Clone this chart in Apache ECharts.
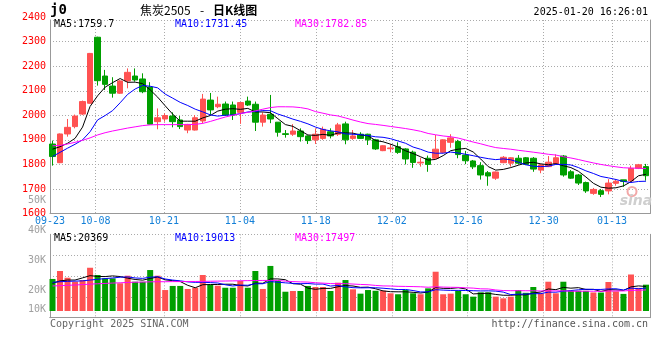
<!DOCTYPE html>
<html><head><meta charset="utf-8">
<script src="https://cdn.jsdelivr.net/npm/echarts@6/dist/echarts.min.js"></script>
<style>html,body{margin:0;padding:0;background:#fff}#c{width:660px;height:360px}</style>
</head><body><div id="c"></div>
<script>
const dates = ['09-23','09-24','09-25','09-26','09-27','09-30','10-08','10-09','10-10','10-11','10-14','10-15','10-16','10-17','10-18','10-21','10-22','10-23','10-24','10-25','10-28','10-29','10-30','10-31','11-01','11-04','11-05','11-06','11-07','11-08','11-11','11-12','11-13','11-14','11-15','11-18','11-19','11-20','11-21','11-22','11-25','11-26','11-27','11-28','11-29','12-02','12-03','12-04','12-05','12-06','12-09','12-10','12-11','12-12','12-13','12-16','12-17','12-18','12-19','12-20','12-23','12-24','12-25','12-26','12-27','12-30','12-31','01-02','01-03','01-06','01-07','01-08','01-09','01-10','01-13','01-14','01-15','01-16','01-17','01-20'];
const labelDates = ['09-23','10-08','10-21','11-04','11-18','12-02','12-16','12-30','01-13'];
const priceTicks = [1600,1700,1800,1900,2000,2100,2200,2300,2400];
const volTickLabels = ['50K','40K','30K','20K','10K'];

const open = [1883,1807,1924,1954,2005,2049,2318,2160,2119,2090,2140,2160,2148,2115,1974,1985,1997,1981,1940,1940,1977,2062,2035,2046,2042,2012,2058,2045,1972,2004,1972,1925,1923,1936,1916,1900,1906,1933,1923,1965,1906,1923,1923,1900,1856,1864,1872,1863,1850,1806,1825,1825,1849,1890,1893,1838,1814,1795,1766,1744,1807,1805,1825,1827,1825,1777,1791,1802,1834,1770,1757,1726,1682,1693,1692,1723,1737,1733,1784,1791];
const close = [1832,1924,1951,1997,2056,2252,2141,2126,2090,2140,2175,2144,2096,1964,1990,1999,1974,1954,1963,1990,2066,2022,2045,2001,2001,2052,2042,1972,2001,1985,1931,1922,1936,1913,1897,1923,1943,1916,1961,1900,1916,1906,1900,1863,1876,1867,1849,1822,1808,1809,1800,1862,1900,1908,1840,1815,1790,1757,1753,1769,1829,1827,1805,1800,1781,1798,1809,1827,1757,1744,1724,1692,1698,1678,1724,1731.5,1730.5,1784,1798.5,1754];
const low = [1795,1805,1913,1947,2001,2047,2121,2103,2072,2087,2110,2137,2090,1962,1943,1974,1951,1944,1927,1938,1967,2001,2029,1997,1981,1965,2038,1936,1954,1968,1913,1909,1916,1893,1883,1883,1900,1906,1916,1882,1900,1904,1879,1859,1854,1849,1843,1800,1786,1791,1770,1823,1845,1868,1825,1801,1781,1738,1713,1737,1805,1791,1800,1797,1770,1764,1789,1800,1750,1741,1716,1684,1676,1667,1678,1713,1709,1728,1781,1734];
const high = [1897,1926,1985,2003,2060,2254,2320,2185,2155,2143,2191,2191,2171,2135,2028,2008,2012,1997,1965,2001,2087,2091,2076,2056,2056,2054,2076,2056,2012,2083,1972,1940,1964,1947,1918,1947,1954,1947,1969,1974,1940,1931,1925,1904,1878,1883,1890,1866,1856,1827,1836,1920,1902,1923,1900,1855,1818,1809,1773,1771,1834,1829,1838,1830,1830,1802,1834,1841,1838,1777,1761,1730,1704,1700,1740,1740,1737,1795,1802,1802];

const ma5 = [1862,1872,1886,1906,1952,2036,2079.4,2114.4,2133,2149.8,2134.4,2135,2129,2103.8,2073.8,2038.6,2004.6,1976.2,1976,1976,1989.4,1999,2017.2,2024.8,2027,2024.2,2028.2,2013.6,2013.6,2010.4,1986.2,1962.2,1955,1937.4,1919.8,1918.2,1922.4,1918.4,1928,1928.6,1927.2,1919.8,1916.6,1897,1892.2,1882.4,1871,1855.4,1844.4,1831,1817.6,1820.2,1835.8,1855.8,1862,1865,1850.6,1822,1791,1776.8,1779.6,1787,1796.6,1806,1808.4,1802.2,1798.6,1803,1794.4,1787,1772.2,1748.8,1723,1707.2,1703.2,1704.7,1712.4,1729.6,1753.7,1759.7];
const ma10 = [1832,1849,1866,1882,1900,1933,1981,1999,2019,2050.9,2085.2,2107.2,2121.7,2118.4,2111.8,2086.5,2069.8,2052.6,2039.9,2024.9,2014,2001.8,1996.7,2000.4,2001.5,2006.8,2013.6,2015.4,2019.2,2018.7,2005.2,1995.2,1984.3,1975.5,1965.1,1952.2,1942.3,1936.7,1932.7,1924.2,1922.7,1921.1,1917.5,1912.5,1910.4,1904.8,1895.4,1886,1870.7,1861.6,1850,1845.6,1845.6,1850.1,1846.5,1841.3,1835.4,1828.9,1823.4,1819.4,1822.3,1818.8,1809.3,1798.5,1792.6,1790.9,1792.8,1799.8,1800.2,1797.7,1787.2,1773.7,1763,1750.8,1745.1,1738.5,1730.6,1726.3,1730.5,1731.45];
const ma30 = [1876,1877,1883,1890,1898,1908,1920,1929,1936,1942,1948,1953,1958,1961,1962,1962,1962,1962,1962,1963,1967,1975,1984,1993,2000,2007,2012,2018,2025,2031.5,2034.8,2034.7,2034.2,2031.4,2026.1,2015.2,2008.6,2001.6,1997.3,1989.3,1980.6,1972.7,1966.2,1962.8,1959,1954.6,1950.4,1946,1940.9,1934.8,1926,1920.6,1915.8,1912.7,1907.3,1899.4,1891,1883.9,1875.6,1868.4,1865,1861.8,1857.5,1853.7,1849.8,1845.7,1841.2,1838.2,1831.4,1826.2,1819.8,1812.7,1806,1799.8,1794.7,1790.2,1786.3,1785,1784.7,1782.85];

const volume = [26600,33200,27600,24300,25700,35900,29900,27100,27100,23000,29300,24300,24300,34000,29300,17400,20800,20800,18300,19300,29900,21600,21000,19300,19300,24900,19300,33200,18300,37400,24900,16000,16600,16600,20800,19900,19900,16600,23500,25700,18000,14400,17400,16800,16800,14700,13900,17400,14700,13900,18800,32600,13900,14400,16800,13900,11900,15500,15500,11900,10500,11900,17400,15100,19900,14700,24300,14700,24300,16780,16800,16700,15400,15300,24085,16300,14200,30300,19200,21845];
const vma5 = [23000,25000,25700,25700,27480,29340,28680,28580,29140,28600,27280,26160,25600,26980,28240,25860,25160,24460,21320,19320,21820,21980,22020,22220,22220,21220,20760,23200,23000,26620,26620,25960,22640,22300,18980,17980,18760,18760,20140,21120,20740,19640,19800,18460,16680,16020,15920,15920,15500,14920,15740,19480,18780,18720,19300,18320,14180,14500,14720,13740,13060,13060,13440,13360,14960,15800,18280,17740,19580,18956,19376,17856,17996,16196,17657,17557,17057,20037,20817,20369];
const vma10 = [23800,24300,24600,24800,25000,25700,26300,26900,27400,28040,28310,27420,27090,28060,28420,26570,25660,25030,24150,23780,23840,23570,23240,21770,20770,21520,21370,22610,22610,24420,23920,23360,22920,22650,22800,22300,22360,20700,21220,20050,19360,19200,19280,19300,18900,18380,17780,17860,16980,15800,15880,17700,17350,17110,17110,17030,16830,16640,16720,16520,15690,13620,13970,14040,14350,14430,15670,15590,16470,16958,17588,18068,17868,17888,18307,18467,17457,19017,18507,19013];
const vma30 = [20800,21000,21300,21600,21900,22300,22600,22900,23200,23400,23700,23900,24000,24200,24300,24300,24400,24400,24500,24500,24600,24700,24800,24900,25000,25100,25200,25300,25350,25410,25360,24780,24420,24160,24000,23460,23130,22780,22660,22750,22370,22040,21810,21240,20820,20730,20500,20390,20270,20090,19720,20090,19850,19690,19600,19240,18990,18400,18310,17460,16980,16840,16870,16820,16790,16610,16760,16700,16720,16430,16390,16460,16400,16350,16590,16640,16650,17080,17230,17497];

const UP = '#ff5252', DOWN = '#009f00';
const MONO = "'DejaVu Sans Mono', monospace";
const GRIDC = '#aaaaaa', FRAMEC = '#999999';
const showLbl = (i, v) => labelDates.indexOf(v) >= 0;
const PMIN = 1600, PMAX = 2388.2, VMAX = 63661;

const chart = echarts.init(document.getElementById('c'), null, {renderer: 'canvas'});
const dotted = {show: true, lineStyle: {color: GRIDC, type: [1, 2], width: 1}};
const frameLine = {show: true, lineStyle: {color: FRAMEC, width: 1}};

function txt(text, x, y, fill, font, align) {
  return {type: 'text', x: x, y: y, silent: true, z: 10,
    style: {text: text, fill: fill, font: font, textAlign: align || 'left', textVerticalAlign: 'middle'}};
}

const option = {
  animation: false,
  backgroundColor: '#ffffff',
  grid: [
    {left: 48.75, top: 20, width: 601, height: 193.5, outerBoundsMode: 'none'},
    {left: 50, top: 20, width: 600, height: 193.5, outerBoundsMode: 'none'},
    {left: 48.75, top: 234.3, width: 601, height: 76.7, outerBoundsMode: 'none'},
    {left: 50, top: 234.3, width: 600, height: 83.4, outerBoundsMode: 'none'}
  ],
  xAxis: [
    {type: 'category', gridIndex: 0, data: dates, show: false},
    {type: 'category', gridIndex: 1, data: dates, boundaryGap: false,
     axisLine: frameLine, axisTick: {show: false, interval: showLbl},
     axisLabel: {interval: showLbl, color: '#1480d8', fontFamily: MONO, fontSize: 10, margin: 3},
     splitLine: {show: true, interval: showLbl, lineStyle: {color: GRIDC, type: [1, 2], width: 1}}},
    {type: 'category', gridIndex: 2, data: dates, show: false},
    {type: 'category', gridIndex: 3, data: dates, boundaryGap: false,
     axisLine: frameLine, axisTick: {show: false, interval: showLbl}, axisLabel: {show: false},
     splitLine: {show: true, interval: showLbl, lineStyle: {color: GRIDC, type: [1, 2], width: 1}}},
    {type: 'category', gridIndex: 3, data: dates, position: 'top', boundaryGap: false,
     axisLine: frameLine, axisTick: {show: false}, axisLabel: {show: false}, splitLine: {show: false}}
  ],
  yAxis: [
    {type: 'value', gridIndex: 0, min: PMIN, max: PMAX, show: false, splitLine: {show: false}},
    {type: 'value', gridIndex: 1, min: PMIN, max: PMAX, interval: 100,
     axisLine: frameLine, axisTick: {show: false},
     axisLabel: {color: '#ff0000', fontFamily: MONO, fontSize: 10, margin: 4, showMaxLabel: false,
       formatter: v => (priceTicks.indexOf(v) >= 0 ? String(v) : '')},
     splitLine: dotted},
    {type: 'value', gridIndex: 1, min: PMIN, max: PMAX, position: 'right',
     axisLine: frameLine, axisTick: {show: false}, axisLabel: {show: false}, splitLine: {show: false}},
    {type: 'value', gridIndex: 2, min: 0, max: VMAX, show: false, splitLine: {show: false}},
    {type: 'value', gridIndex: 3, min: 0, max: 4, interval: 1,
     axisLine: frameLine, axisTick: {show: false}, axisLabel: {show: false}, splitLine: dotted},
    {type: 'value', gridIndex: 3, min: 0, max: 4, position: 'right',
     axisLine: frameLine, axisTick: {show: false}, axisLabel: {show: false}, splitLine: {show: false}}
  ],
  series: [
    {type: 'candlestick', xAxisIndex: 0, yAxisIndex: 0, barWidth: 6,
     data: dates.map((d, i) => [open[i], close[i], low[i], high[i]]),
     itemStyle: {color: UP, color0: DOWN, borderColor: UP, borderColor0: DOWN, borderWidth: 1}},
    {type: 'line', xAxisIndex: 0, yAxisIndex: 0, data: ma5, symbol: 'none', lineStyle: {color: '#000000', width: 1}},
    {type: 'line', xAxisIndex: 0, yAxisIndex: 0, data: ma10, symbol: 'none', lineStyle: {color: '#0000ff', width: 1}},
    {type: 'line', xAxisIndex: 0, yAxisIndex: 0, data: ma30, symbol: 'none', lineStyle: {color: '#ff00ff', width: 1}},
    {type: 'bar', xAxisIndex: 2, yAxisIndex: 3, barWidth: 6,
     data: volume.map((v, i) => ({value: v, itemStyle: {color: close[i] >= open[i] ? UP : DOWN}}))},
    {type: 'line', xAxisIndex: 2, yAxisIndex: 3, data: vma5, symbol: 'none', lineStyle: {color: '#000000', width: 1}},
    {type: 'line', xAxisIndex: 2, yAxisIndex: 3, data: vma10, symbol: 'none', lineStyle: {color: '#0000ff', width: 1}},
    {type: 'line', xAxisIndex: 2, yAxisIndex: 3, data: vma30, symbol: 'none', lineStyle: {color: '#ff00ff', width: 1}}
  ],
  graphic: [
    txt('j0', 50, 10, '#000', "bold 14px " + MONO),
    txt('焦炭2505', 140, 10, '#000', "12px 'Noto Sans CJK SC'"),
    txt('-', 200, 10, '#000', "12px 'Noto Sans CJK SC'"),
    txt('日K线图', 213, 10, '#000', "bold 12px 'Noto Sans CJK SC'"),
    txt('2025-01-20 16:26:01', 648, 12, '#000', "10px " + MONO, 'right'),
    txt(String(priceTicks[8]), 46, 17, '#ff0000', "10px " + MONO, 'right'),
    txt('MA5:1759.7', 54, 24.5, '#000000', "10px " + MONO),
    txt('MA10:1731.45', 175, 24.5, '#0000ff', "10px " + MONO),
    txt('MA30:1782.85', 295, 24.5, '#ff00ff', "10px " + MONO),
    txt(volTickLabels[0], 46, 200, '#a0a0a0', "10px " + MONO, 'right'),
    txt(volTickLabels[1], 46, 230.7, '#a0a0a0', "10px " + MONO, 'right'),
    txt(volTickLabels[2], 46, 260.7, '#a0a0a0', "10px " + MONO, 'right'),
    txt(volTickLabels[3], 46, 290, '#a0a0a0', "10px " + MONO, 'right'),
    txt(volTickLabels[4], 46, 309.3, '#a0a0a0', "10px " + MONO, 'right'),
    txt('MA5:20369', 54, 238.7, '#000000', "10px " + MONO),
    txt('MA10:19013', 175, 238.7, '#0000ff', "10px " + MONO),
    txt('MA30:17497', 295, 238.7, '#ff00ff', "10px " + MONO),
    txt('Copyright 2025 SINA.COM', 50, 324, '#666666', "10px " + MONO),
    txt('http://finance.sina.com.cn', 648, 324, '#555555', "10px " + MONO, 'right'),
    {type: 'circle', shape: {cx: 632, cy: 191.5, r: 4.5}, silent: true, z: 1,
     style: {fill: 'none', stroke: '#f2a8a8', lineWidth: 2}},
    txt('sina', 636, 201, '#cfcfcf', "italic bold 14px 'DejaVu Sans'", 'center')
  ]
};
chart.setOption(option);
</script></body></html>
